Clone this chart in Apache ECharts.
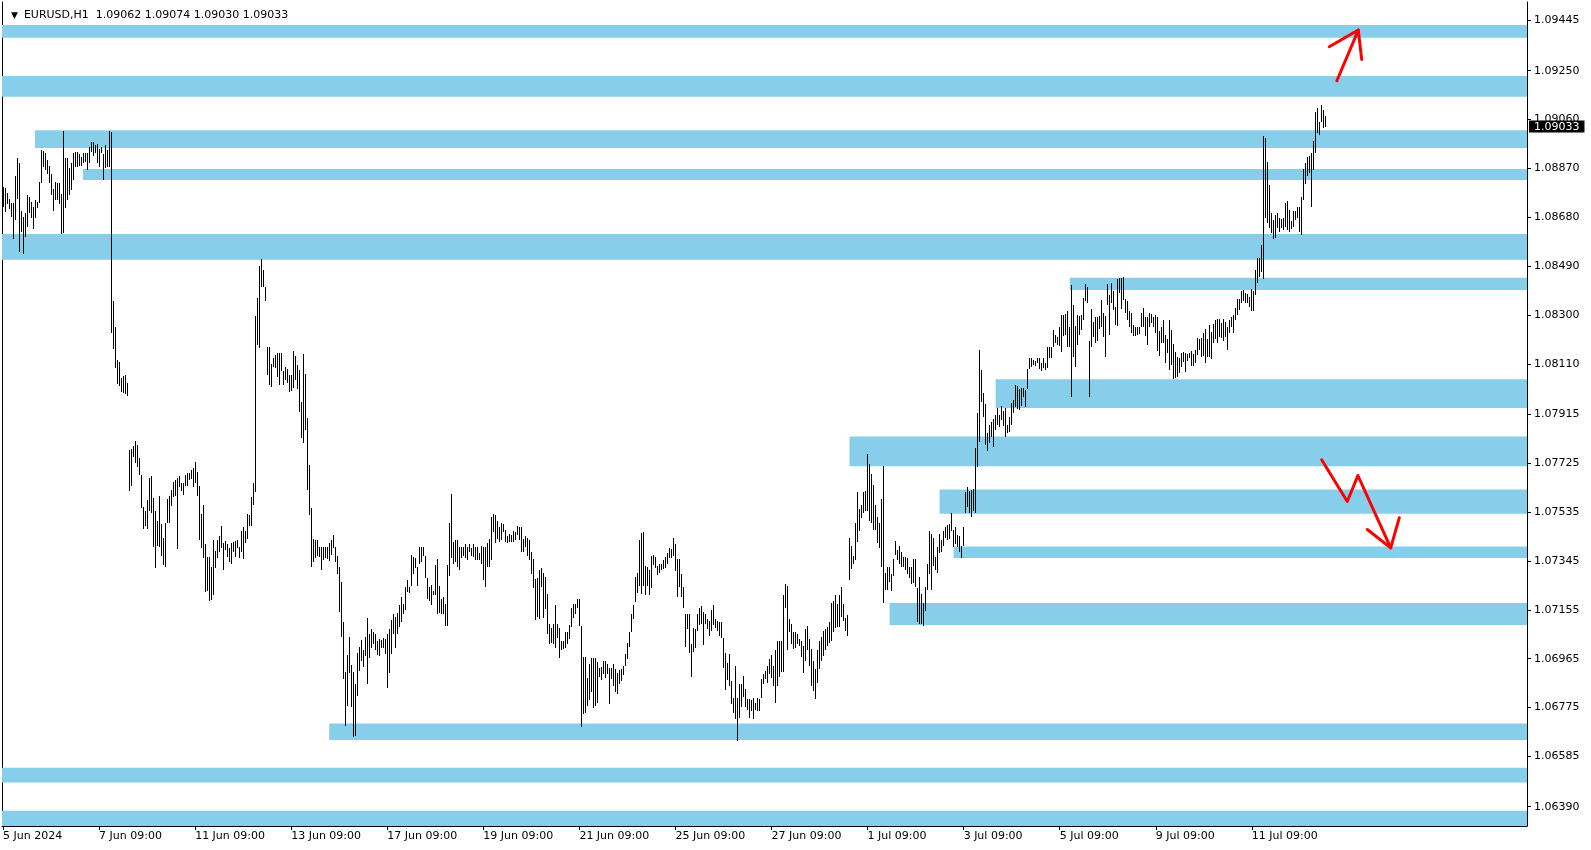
<!DOCTYPE html>
<html>
<head>
<meta charset="utf-8">
<script src="https://cdn.jsdelivr.net/npm/echarts@6.0.0/dist/echarts.min.js"></script>
<style>
html,body{margin:0;padding:0;background:#fff;}
#chart{width:1591px;height:850px;}
</style>
</head>
<body>
<div id="chart"></div>
<script>
// ---------- data ----------
const symbolName = 'EURUSD,H1';
const lastBarOHLC = ['1.09062', '1.09074', '1.09030', '1.09033'];
const lastPrice = 1.09033;

const xTickLabels = ['5 Jun 2024', '7 Jun 09:00', '11 Jun 09:00', '13 Jun 09:00', '17 Jun 09:00',
  '19 Jun 09:00', '21 Jun 09:00', '25 Jun 09:00', '27 Jun 09:00', '1 Jul 09:00', '3 Jul 09:00',
  '5 Jul 09:00', '9 Jul 09:00', '11 Jul 09:00'];
const barsPerLabel = 48;
const visibleBarSlots = 762;

const yTickLabels = ['1.06390', '1.06585', '1.06775', '1.06965', '1.07155', '1.07345', '1.07535',
  '1.07725', '1.07915', '1.08110', '1.08300', '1.08490', '1.08680', '1.08870', '1.09060',
  '1.09250', '1.09445'];
const yMin = 1.06315;
const yMax = 1.09517;

// H1 bar highs / lows (bar 0 = 5 Jun 09:00)
const highs = [
1.08798,1.08794,1.08774,1.08751,1.08735,1.08735,1.08841,1.08910,1.08891,1.08704,
1.08681,1.08696,1.08766,1.08759,1.08739,1.08720,1.08747,1.08739,1.08817,1.08942,
1.08938,1.08930,1.08903,1.08879,1.08848,1.08790,1.08817,1.08813,1.08813,1.08770,
1.09016,1.08910,1.08910,1.08872,1.08891,1.08930,1.08934,1.08934,1.08926,1.08914,
1.08930,1.08930,1.08930,1.08953,1.08972,1.08972,1.08961,1.08965,1.08945,1.08953,
1.08926,1.08961,1.08942,1.09016,1.09012,1.08354,1.08253,1.08125,1.08117,1.08055,
1.08063,1.08066,1.08035,1.07775,1.07779,1.07790,1.07810,1.07794,1.07744,1.07678,
1.07553,1.07541,1.07580,1.07666,1.07674,1.07588,1.07541,1.07502,1.07599,1.07487,
1.07436,1.07494,1.07584,1.07596,1.07619,1.07650,1.07658,1.07666,1.07674,1.07646,
1.07646,1.07678,1.07685,1.07685,1.07697,1.07705,1.07728,1.07689,1.07638,1.07529,
1.07561,1.07409,1.07359,1.07359,1.07320,1.07425,1.07382,1.07425,1.07440,1.07479,
1.07413,1.07421,1.07409,1.07394,1.07413,1.07417,1.07421,1.07425,1.07398,1.07463,
1.07475,1.07463,1.07529,1.07522,1.07592,1.07646,1.08296,1.08366,1.08490,1.08518,
1.08475,1.08409,1.08175,1.08175,1.08109,1.08132,1.08144,1.08152,1.08152,1.08152,
1.08082,1.08097,1.08090,1.08066,1.08066,1.08160,1.08140,1.08105,1.08086,1.07961,
1.08148,1.08070,1.07899,1.07716,1.07549,1.07432,1.07428,1.07425,1.07398,1.07401,
1.07398,1.07398,1.07401,1.07413,1.07428,1.07444,1.07398,1.07366,1.07320,1.07265,
1.07109,1.06915,1.06981,1.07051,1.06942,1.06915,1.06868,1.06989,1.07012,1.07039,
1.06997,1.07051,1.07125,1.07063,1.07082,1.07067,1.07063,1.07035,1.07043,1.07039,
1.07047,1.07043,1.07063,1.07082,1.07117,1.07137,1.07129,1.07144,1.07172,1.07203,
1.07179,1.07242,1.07269,1.07242,1.07370,1.07359,1.07355,1.07320,1.07398,1.07401,
1.07398,1.07363,1.07277,1.07242,1.07253,1.07230,1.07331,1.07351,1.07249,1.07199,
1.07203,1.07176,1.07331,1.07491,1.07607,1.07417,1.07428,1.07428,1.07398,1.07398,
1.07401,1.07409,1.07401,1.07409,1.07394,1.07409,1.07398,1.07398,1.07374,1.07405,
1.07398,1.07398,1.07413,1.07432,1.07514,1.07529,1.07525,1.07502,1.07475,1.07491,
1.07487,1.07467,1.07440,1.07448,1.07444,1.07460,1.07456,1.07479,1.07475,1.07475,
1.07432,1.07440,1.07436,1.07428,1.07378,1.07351,1.07273,1.07277,1.07308,1.07316,
1.07300,1.07281,1.07218,1.07101,1.07086,1.07101,1.07172,1.07101,1.07086,1.07035,
1.07035,1.07067,1.07067,1.07098,1.07164,1.07176,1.07179,1.07199,1.07199,1.07094,
1.06973,1.06973,1.06891,1.06946,1.06969,1.06969,1.06969,1.06954,1.06930,1.06934,
1.06958,1.06958,1.06946,1.06930,1.06930,1.06946,1.06927,1.06911,1.06923,1.06927,
1.06938,1.06985,1.07028,1.07067,1.07140,1.07172,1.07281,1.07300,1.07425,1.07452,
1.07456,1.07327,1.07323,1.07308,1.07366,1.07370,1.07359,1.07327,1.07335,1.07335,
1.07347,1.07359,1.07374,1.07394,1.07390,1.07436,1.07409,1.07351,1.07351,1.07296,
1.07242,1.07140,1.07140,1.07140,1.07024,1.07086,1.07082,1.07137,1.07164,1.07168,
1.07148,1.07140,1.07121,1.07113,1.07156,1.07172,1.07121,1.07113,1.07106,1.07106,
1.07047,1.06989,1.06950,1.06985,1.06880,1.06814,1.06938,1.06814,1.06868,1.06868,
1.06899,1.06849,1.06810,1.06810,1.06806,1.06814,1.06794,1.06814,1.06810,1.06888,
1.06907,1.06919,1.06938,1.06965,1.06981,1.06938,1.07000,1.07035,1.07035,1.07035,
1.07214,1.07257,1.07249,1.07121,1.07101,1.07070,1.07067,1.07063,1.07043,1.07035,
1.07016,1.07082,1.07094,1.07043,1.07004,1.06958,1.06927,1.06997,1.07035,1.07051,
1.07074,1.07082,1.07090,1.07106,1.07183,1.07191,1.07214,1.07176,1.07211,1.07242,
1.07176,1.07125,1.07133,1.07436,1.07405,1.07366,1.07491,1.07611,1.07545,1.07564,
1.07611,1.07615,1.07759,1.07720,1.07681,1.07642,1.07564,1.07514,1.07494,1.07584,
1.07712,1.07300,1.07323,1.07323,1.07296,1.07351,1.07421,1.07386,1.07405,1.07378,
1.07359,1.07359,1.07355,1.07320,1.07323,1.07351,1.07351,1.07238,1.07281,1.07218,
1.07183,1.07242,1.07335,1.07463,1.07448,1.07436,1.07359,1.07398,1.07448,1.07428,
1.07463,1.07475,1.07483,1.07487,1.07533,1.07467,1.07475,1.07444,1.07440,1.07405,
1.07475,1.07611,1.07631,1.07615,1.07619,1.07623,1.07782,1.07918,1.08164,1.08086,
1.07996,1.07953,1.07841,1.07872,1.07883,1.07895,1.07911,1.07938,1.07911,1.07946,
1.07926,1.07938,1.07872,1.07903,1.07957,1.07969,1.08027,1.08023,1.08012,1.08016,
1.08016,1.08008,1.08090,1.08132,1.08132,1.08125,1.08121,1.08132,1.08132,1.08113,
1.08132,1.08113,1.08175,1.08175,1.08175,1.08241,1.08222,1.08214,1.08253,1.08300,
1.08300,1.08304,1.08315,1.08253,1.08416,1.08339,1.08257,1.08300,1.08296,1.08300,
1.08366,1.08420,1.08409,1.08198,1.08323,1.08272,1.08292,1.08292,1.08296,1.08358,
1.08307,1.08296,1.08420,1.08377,1.08424,1.08393,1.08331,1.08440,1.08444,1.08444,
1.08448,1.08362,1.08354,1.08315,1.08307,1.08261,1.08253,1.08253,1.08253,1.08307,
1.08327,1.08292,1.08292,1.08307,1.08304,1.08292,1.08300,1.08292,1.08237,1.08253,
1.08280,1.08222,1.08206,1.08280,1.08241,1.08187,1.08156,1.08136,1.08132,1.08152,
1.08156,1.08152,1.08148,1.08152,1.08160,1.08148,1.08164,1.08210,1.08206,1.08210,
1.08230,1.08245,1.08206,1.08261,1.08234,1.08265,1.08280,1.08284,1.08284,1.08269,
1.08284,1.08272,1.08253,1.08280,1.08292,1.08300,1.08327,1.08362,1.08362,1.08393,
1.08397,1.08385,1.08381,1.08370,1.08401,1.08393,1.08475,1.08521,1.08521,1.08572,
1.08996,1.08988,1.08895,1.08805,1.08696,1.08669,1.08689,1.08696,1.08677,1.08673,
1.08677,1.08735,1.08743,1.08708,1.08665,1.08704,1.08704,1.08720,1.08720,1.08759,
1.08868,1.08891,1.08914,1.08918,1.08930,1.08976,1.09089,1.09105,1.09050,1.09117,
1.09097,1.09074
];
const lows = [
1.08720,1.08700,1.08731,1.08712,1.08681,1.08595,1.08669,1.08751,1.08545,1.08622,
1.08537,1.08603,1.08642,1.08696,1.08677,1.08636,1.08677,1.08716,1.08735,1.08813,
1.08875,1.08864,1.08848,1.08813,1.08766,1.08704,1.08747,1.08747,1.08731,1.08615,
1.08618,1.08716,1.08747,1.08766,1.08786,1.08825,1.08875,1.08875,1.08879,1.08879,
1.08891,1.08895,1.08864,1.08891,1.08934,1.08918,1.08930,1.08891,1.08875,1.08930,
1.08825,1.08872,1.08875,1.08875,1.08230,1.08168,1.08094,1.08032,1.08024,1.08000,
1.07996,1.07993,1.07985,1.07615,1.07638,1.07748,1.07724,1.07709,1.07678,1.07549,
1.07471,1.07479,1.07471,1.07541,1.07533,1.07398,1.07316,1.07405,1.07401,1.07363,
1.07328,1.07320,1.07491,1.07494,1.07557,1.07592,1.07599,1.07390,1.07631,1.07615,
1.07603,1.07635,1.07638,1.07658,1.07662,1.07631,1.07646,1.07599,1.07428,1.07394,
1.07355,1.07226,1.07230,1.07191,1.07195,1.07211,1.07316,1.07355,1.07378,1.07394,
1.07308,1.07386,1.07359,1.07339,1.07335,1.07378,1.07359,1.07394,1.07355,1.07378,
1.07351,1.07413,1.07432,1.07479,1.07479,1.07561,1.07611,1.08183,1.08171,1.08409,
1.08409,1.08354,1.08066,1.08027,1.08020,1.08097,1.08093,1.08058,1.08027,1.08082,
1.08027,1.08047,1.08035,1.08000,1.08004,1.08016,1.08047,1.08012,1.07922,1.07821,
1.07802,1.07852,1.07619,1.07522,1.07320,1.07339,1.07355,1.07366,1.07359,1.07308,
1.07347,1.07355,1.07351,1.07343,1.07370,1.07394,1.07339,1.07296,1.07148,1.07051,
1.06888,1.06705,1.06783,1.06911,1.06779,1.06662,1.06666,1.06822,1.06919,1.06958,
1.06934,1.06977,1.06868,1.06969,1.07008,1.07024,1.06997,1.06981,1.06977,1.07008,
1.07008,1.06985,1.06853,1.06911,1.06985,1.07063,1.07008,1.07063,1.07090,1.07106,
1.07140,1.07156,1.07226,1.07222,1.07246,1.07296,1.07316,1.07246,1.07335,1.07339,
1.07363,1.07277,1.07199,1.07191,1.07172,1.07214,1.07214,1.07140,1.07144,1.07140,
1.07140,1.07094,1.07094,1.07288,1.07355,1.07335,1.07339,1.07323,1.07308,1.07355,
1.07366,1.07355,1.07347,1.07378,1.07363,1.07359,1.07347,1.07347,1.07347,1.07335,
1.07269,1.07242,1.07320,1.07320,1.07347,1.07456,1.07413,1.07432,1.07417,1.07425,
1.07456,1.07417,1.07413,1.07417,1.07417,1.07417,1.07425,1.07444,1.07428,1.07378,
1.07378,1.07398,1.07363,1.07347,1.07296,1.07238,1.07117,1.07129,1.07121,1.07242,
1.07125,1.07160,1.07063,1.07024,1.07028,1.07024,1.07008,1.07047,1.06969,1.06997,
1.07004,1.07008,1.07024,1.07043,1.07090,1.07125,1.07140,1.07164,1.07094,1.06701,
1.06751,1.06755,1.06783,1.06806,1.06837,1.06775,1.06783,1.06794,1.06895,1.06884,
1.06907,1.06891,1.06907,1.06790,1.06888,1.06860,1.06837,1.06829,1.06868,1.06880,
1.06903,1.06938,1.06965,1.07012,1.07067,1.07121,1.07187,1.07222,1.07249,1.07218,
1.07249,1.07214,1.07246,1.07211,1.07238,1.07331,1.07316,1.07292,1.07300,1.07308,
1.07312,1.07316,1.07335,1.07355,1.07355,1.07366,1.07304,1.07203,1.07242,1.07203,
1.07164,1.07012,1.07082,1.06989,1.06895,1.06993,1.07008,1.07071,1.07098,1.07101,
1.07020,1.07101,1.07082,1.07055,1.07074,1.07098,1.07086,1.07074,1.07055,1.07047,
1.06930,1.06845,1.06884,1.06860,1.06790,1.06755,1.06732,1.06646,1.06736,1.06779,
1.06818,1.06779,1.06767,1.06736,1.06763,1.06732,1.06767,1.06763,1.06763,1.06814,
1.06868,1.06888,1.06872,1.06907,1.06891,1.06860,1.06794,1.06860,1.06895,1.06915,
1.06915,1.07164,1.06997,1.07067,1.07024,1.07004,1.07008,1.07024,1.07016,1.06973,
1.06911,1.06958,1.06997,1.06938,1.06860,1.06841,1.06810,1.06872,1.06927,1.06958,
1.06977,1.06997,1.07016,1.07028,1.07035,1.07067,1.07086,1.07090,1.07090,1.07129,
1.07113,1.07074,1.07055,1.07269,1.07312,1.07335,1.07347,1.07417,1.07463,1.07510,
1.07533,1.07541,1.07541,1.07502,1.07491,1.07467,1.07467,1.07413,1.07394,1.07320,
1.07183,1.07234,1.07234,1.07265,1.07230,1.07285,1.07370,1.07347,1.07335,1.07323,
1.07320,1.07308,1.07296,1.07277,1.07257,1.07261,1.07242,1.07109,1.07101,1.07101,
1.07094,1.07152,1.07234,1.07296,1.07234,1.07327,1.07308,1.07300,1.07374,1.07378,
1.07405,1.07436,1.07425,1.07432,1.07463,1.07398,1.07409,1.07398,1.07378,1.07355,
1.07405,1.07533,1.07553,1.07533,1.07514,1.07541,1.07533,1.07709,1.07806,1.07961,
1.07903,1.07794,1.07771,1.07802,1.07825,1.07786,1.07852,1.07872,1.07864,1.07891,
1.07868,1.07825,1.07841,1.07845,1.07872,1.07918,1.07942,1.07934,1.07930,1.07946,
1.07981,1.07942,1.08012,1.08090,1.08097,1.08105,1.08101,1.08113,1.08090,1.08082,
1.08093,1.08086,1.08093,1.08132,1.08132,1.08175,1.08191,1.08183,1.08179,1.08156,
1.08218,1.08222,1.08175,1.08175,1.07981,1.08136,1.08097,1.08183,1.08222,1.08241,
1.08280,1.08354,1.08346,1.07981,1.08175,1.08214,1.08191,1.08198,1.08245,1.08253,
1.08214,1.08136,1.08339,1.08222,1.08346,1.08319,1.08261,1.08257,1.08385,1.08323,
1.08358,1.08307,1.08280,1.08253,1.08230,1.08218,1.08218,1.08222,1.08226,1.08253,
1.08253,1.08218,1.08183,1.08253,1.08269,1.08253,1.08230,1.08160,1.08140,1.08191,
1.08191,1.08113,1.08152,1.08086,1.08105,1.08051,1.08055,1.08058,1.08074,1.08097,
1.08117,1.08078,1.08121,1.08132,1.08101,1.08101,1.08113,1.08144,1.08164,1.08136,
1.08140,1.08113,1.08136,1.08136,1.08128,1.08191,1.08206,1.08191,1.08214,1.08210,
1.08198,1.08214,1.08164,1.08230,1.08253,1.08230,1.08280,1.08300,1.08319,1.08346,
1.08354,1.08346,1.08346,1.08331,1.08315,1.08315,1.08377,1.08424,1.08448,1.08467,
1.08440,1.08677,1.08658,1.08638,1.08619,1.08595,1.08599,1.08638,1.08623,1.08638,
1.08630,1.08642,1.08630,1.08623,1.08634,1.08642,1.08669,1.08677,1.08623,1.08611,
1.08747,1.08809,1.08840,1.08852,1.08720,1.08864,1.08930,1.09008,1.09000,1.09050,
1.09027,1.09030
];

// support / resistance zones (price range + anchor bar; null = from chart start)
const zoneTop =    [1.09428, 1.09229, 1.09019, 1.08868, 1.08615, 1.08445, 1.08051, 1.07829, 1.07623, 1.07401, 1.07182, 1.06713, 1.06541, 1.06374];
const zoneBottom = [1.09378, 1.09149, 1.08950, 1.08825, 1.08515, 1.08398, 1.07939, 1.07713, 1.07528, 1.07356, 1.07096, 1.06649, 1.06484, 1.06315];
const zoneStartBar = [null, null, 16, 40, null, 533, 496, 423, 468, 475, 443, 163, null, null];

// hand-drawn arrows: [bar position, price]
const arrowUpShaft = [[666.5, 1.09211], [677.2, 1.09408]];
const arrowUpHead = [[662.7, 1.09343], [677.2, 1.09408], [678.9, 1.09294]];
const arrowDownPath = [[658.9, 1.07738], [671.7, 1.07576], [677.0, 1.07677], [693.4, 1.07396]];
const arrowDownHead = [[681.7, 1.07467], [693.4, 1.07396], [697.7, 1.07513]];

// ---------- chart ----------
const FONT = 'DejaVu Sans';
const xTickBars = xTickLabels.map((_, k) => k * barsPerLabel);
const yTickValues = yTickLabels.map(Number);
const bars = highs.map((h, i) => [i, lows[i], h]);

const zoneData = zoneTop.map((t, k) => {
  if (zoneStartBar[k] === null) return [{ yAxis: t }, { yAxis: zoneBottom[k] }];
  return [{ xAxis: zoneStartBar[k], yAxis: t }, { xAxis: visibleBarSlots - 0.5, yAxis: zoneBottom[k] }];
});

const arrowStyle = { color: '#ff0000', width: 3, cap: 'round', join: 'round' };
function arrowSeries(data) {
  return { type: 'line', data: data, symbol: 'none', silent: true, z: 6, clip: false,
    lineStyle: arrowStyle, animation: false };
}

const chart = echarts.init(document.getElementById('chart'), null, { renderer: 'canvas' });
chart.setOption({
  animation: false,
  backgroundColor: '#ffffff',
  title: {
    left: 6, top: 5,
    text: '{tri|▼}{txt|' + symbolName + '\u00a0\u00a0' + lastBarOHLC.join(' ') + '}',
    textStyle: {
      fontWeight: 'normal',
      rich: {
        tri: { fontFamily: FONT, fontSize: 9, fontWeight: 'normal', color: '#000', padding: [0, 6, 0, 0] },
        txt: { fontFamily: FONT, fontSize: 11, fontWeight: 'normal', color: '#000' }
      }
    }
  },
  grid: { left: 2, right: 64, top: 2, bottom: 24, containLabel: false },
  xAxis: {
    type: 'value', min: -0.5, max: visibleBarSlots - 0.5,
    splitLine: { show: false },
    axisLine: { show: true, onZero: false, lineStyle: { color: '#000', width: 1 } },
    axisTick: { show: true, customValues: xTickBars, length: 4, lineStyle: { color: '#000' } },
    axisLabel: {
      customValues: xTickBars,
      formatter: v => xTickLabels[Math.round(v / barsPerLabel)] || '',
      align: 'left', margin: 5, color: '#000', fontFamily: FONT, fontSize: 11
    }
  },
  yAxis: [{
    type: 'value', position: 'right', min: yMin, max: yMax,
    splitLine: { show: false },
    axisLine: { show: true, onZero: false, lineStyle: { color: '#000', width: 1 } },
    axisTick: { show: true, customValues: yTickValues, length: 4, lineStyle: { color: '#000' } },
    axisLabel: {
      customValues: yTickValues,
      formatter: v => v.toFixed(5),
      margin: 7, color: '#000', fontFamily: FONT, fontSize: 11
    },
    axisPointer: {
      show: true, value: lastPrice, status: 'show', triggerTooltip: false, triggerEmphasis: false,
      type: 'line', lineStyle: { color: 'rgba(0,0,0,0)', width: 0 },
      label: {
        show: true, margin: 2, precision: 5,
        formatter: () => lastPrice.toFixed(5),
        color: '#fff', backgroundColor: '#000', padding: [1, 5, 0, 5],
        fontFamily: FONT, fontSize: 11, borderRadius: 0, shadowBlur: 0
      },
      handle: { show: false }
    }
  }, {
    type: 'value', position: 'left', min: yMin, max: yMax,
    splitLine: { show: false },
    axisLine: { show: true, onZero: false, lineStyle: { color: '#000', width: 1 } },
    axisTick: { show: false }, axisLabel: { show: false }
  }],
  series: [
    {
      type: 'line', data: [], z: 1, silent: true,
      markArea: { silent: true, z: 1, itemStyle: { color: '#87CEEB', opacity: 1, borderWidth: 0 }, data: zoneData }
    },
    {
      type: 'custom', z: 4, silent: true, clip: true,
      data: bars,
      encode: { x: 0, y: [1, 2] },
      renderItem: function (params, api) {
        const i = api.value(0);
        const top = api.coord([i, api.value(2)]);
        const bot = api.coord([i, api.value(1)]);
        const x = Math.round(top[0] - 0.5);
        const y1 = Math.round(top[1]);
        const y2 = Math.round(bot[1]);
        return { type: 'rect', shape: { x: x, y: y1, width: 1, height: Math.max(1, y2 - y1) }, style: { fill: '#000' } };
      }
    },
    arrowSeries(arrowUpShaft),
    arrowSeries(arrowUpHead),
    arrowSeries(arrowDownPath),
    arrowSeries(arrowDownHead)
  ]
});
</script>
</body>
</html>
